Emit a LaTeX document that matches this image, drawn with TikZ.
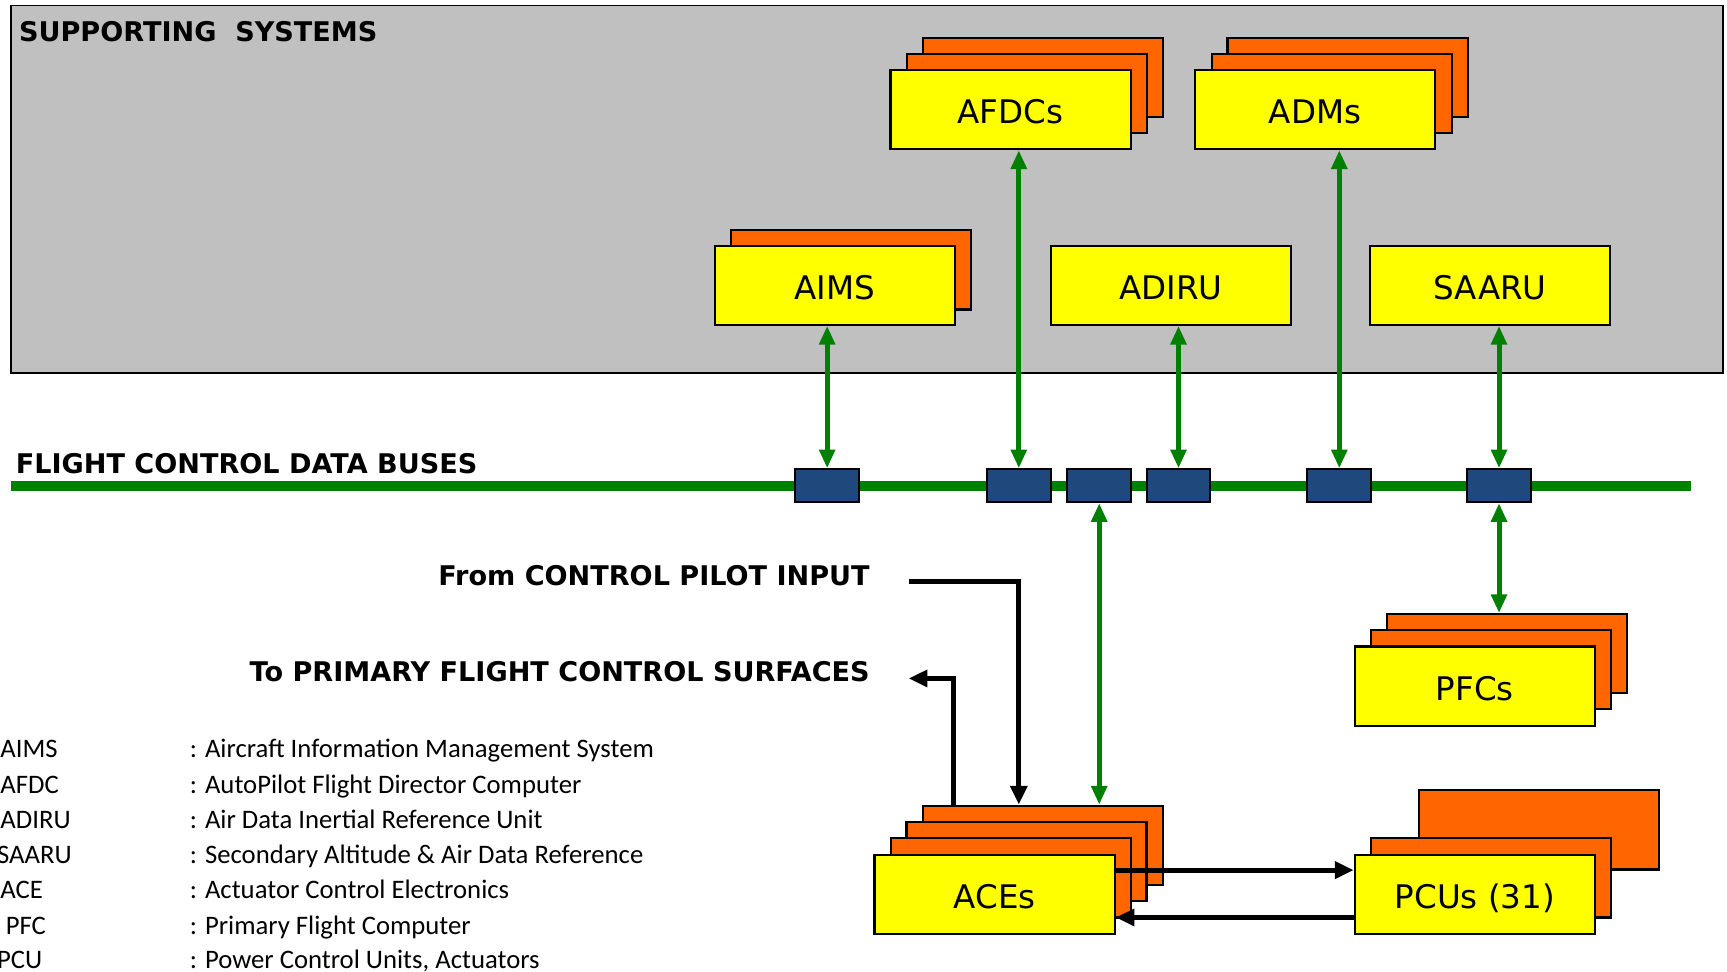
\documentclass[tikz,border=0pt]{standalone}
\usepackage{fontspec}
\setmainfont{DejaVu Sans}
\newfontfamily\legendfont{Carlito}
\usetikzlibrary{arrows.meta}
\definecolor{panelgray}{HTML}{C0C0C0}
\definecolor{unityellow}{HTML}{FFFF00}
\definecolor{unitorange}{HTML}{FF6600}
\definecolor{busgreen}{HTML}{008000}
\definecolor{tapblue}{HTML}{1F497D}

\begin{document}
\begin{tikzpicture}[x=0.02cm,y=-0.02cm]
	\tikzstyle{every node}+=[inner sep=0pt]
	\tikzstyle{unit}=[draw=black,line width=1.1pt,fill=unityellow,minimum width=4.36cm,minimum height=1.44cm,text height=0.51cm,text depth=0cm,font=\fontsize{16.8}{19}\selectfont]
	\tikzstyle{layer}=[unit,fill=unitorange]
	\tikzstyle{tap}=[draw=black,line width=1pt,fill=tapblue,minimum width=1.16cm,minimum height=0.6cm]
	\tikzstyle{link}=[draw=busgreen,line width=2.6pt,{Triangle[length=0.34cm,width=0.28cm]}-{Triangle[length=0.34cm,width=0.28cm]}]
	\tikzstyle{ctl}=[draw=black,line width=2.6pt,-{Triangle[length=0.34cm,width=0.3cm]}]
	\tikzstyle{title}=[font=\bfseries\fontsize{14}{16}\selectfont,anchor=base west]
	\tikzstyle{legend}=[font=\legendfont\fontsize{13.8}{16}\selectfont,anchor=base west]
	\useasboundingbox[fill=white] (0,0) rectangle (1568,882);
	% supporting systems panel
	\draw [black,line width=1pt,fill=panelgray] (10,5) rectangle (1564,339);
	\node [title] (suptitle) at (17,38) {SUPPORTING\ \ SYSTEMS};
	\node [layer] (afdc3) at (947,70.5) {};
	\node [layer] (afdc2) at (932.5,85) {};
	\node [unit] (afdc) at (917.5,99.5) {AFDCs};
	\node [layer] (adm3) at (1223.5,70.5) {};
	\node [layer] (adm2) at (1209,85) {};
	\node [unit] (adm) at (1194,99.5) {ADMs};
	\node [layer] (aims2) at (772.5,245) {};
	\node [unit] (aims) at (758,259) {AIMS};
	\node [unit] (adiru) at (1063,259) {ADIRU};
	\node [unit] (saaru) at (1353,259) {SAARU};
	% data buses
	\coordinate (busL) at (10,441);
	\coordinate (busR) at (1535,441);
	\draw [busgreen,line width=5.2pt] (busL) -- (busR);
	\node [title] (bustitle) at (14,430) {FLIGHT CONTROL DATA BUSES};
	\node [tap] (tapA) at (751,441) {};
	\node [tap] (tapB) at (925,441) {};
	\node [tap] (tapC) at (998,441) {};
	\node [tap] (tapD) at (1070,441) {};
	\node [tap] (tapE) at (1216,441) {};
	\node [tap] (tapF) at (1361,441) {};
	% lower units
	\node [layer] (pfc3) at (1368,593.5) {};
	\node [layer] (pfc2) at (1354,608) {};
	\node [unit] (pfc) at (1339,623) {PFCs};
	\node [layer] (ace4) at (947,767.5) {};
	\node [layer] (ace3) at (932,782) {};
	\node [layer] (ace2) at (918,797) {};
	\node [unit] (ace) at (903,812) {ACEs};
	\node [layer] (pcu3) at (1397,753.5) {};
	\node [layer] (pcu2) at (1354,797) {};
	\node [unit] (pcu) at (1339,812) {PCUs (31)};
	% bus links
	\draw [link] (aims.south -| tapA) -- (tapA.north);
	\draw [link] (afdc.south -| tapB) -- (tapB.north);
	\draw [link] (adiru.south -| tapD) -- (tapD.north);
	\draw [link] (adm.south -| tapE) -- (tapE.north);
	\draw [link] (saaru.south -| tapF) -- (tapF.north);
	\draw [link] (tapC.south) -- (ace4.north -| tapC);
	\draw [link] (tapF.south) -- (pfc3.north -| tapF);
	% pilot input and surfaces
	\node [title,anchor=base east] (fromtxt) at (790,532) {From CONTROL PILOT INPUT};
	\node [title,anchor=base east] (totxt) at (790,619) {To PRIMARY FLIGHT CONTROL SURFACES};
	\coordinate (pin) at (825,528);
	\coordinate (pout) at (825,616);
	\draw [ctl] (pin) -| (ace4.north -| tapB);
	\draw [ctl] ([xshift=0.58cm]ace4.north west) |- (pout);
	\draw [ctl] ([yshift=0.44cm]ace.east) -- ([yshift=0.44cm]pcu.west);
	\draw [ctl] ([yshift=-0.42cm]pcu.west) -- ([yshift=-0.42cm]ace.east);
	% legend
	\node [legend] (lg1) at (0,688) {AIMS};
	\node [legend] (lg2) at (0,720) {AFDC};
	\node [legend] (lg3) at (0,752) {ADIRU};
	\node [legend] (lg4) at (-3,784) {SAARU};
	\node [legend] (lg5) at (0,816) {ACE};
	\node [legend] (lg6) at (5,848) {PFC};
	\node [legend] (lg7) at (-3,879) {PCU};
	\node [legend] (ld1) at (172,688) {: Aircraft Information Management System};
	\node [legend] (ld2) at (172,720) {: AutoPilot Flight Director Computer};
	\node [legend] (ld3) at (172,752) {: Air Data Inertial Reference Unit};
	\node [legend] (ld4) at (172,784) {: Secondary Altitude \& Air Data Reference};
	\node [legend] (ld5) at (172,816) {: Actuator Control Electronics};
	\node [legend] (ld6) at (172,848) {: Primary Flight Computer};
	\node [legend] (ld7) at (172,879) {: Power Control Units, Actuators};
\end{tikzpicture}
\end{document}
